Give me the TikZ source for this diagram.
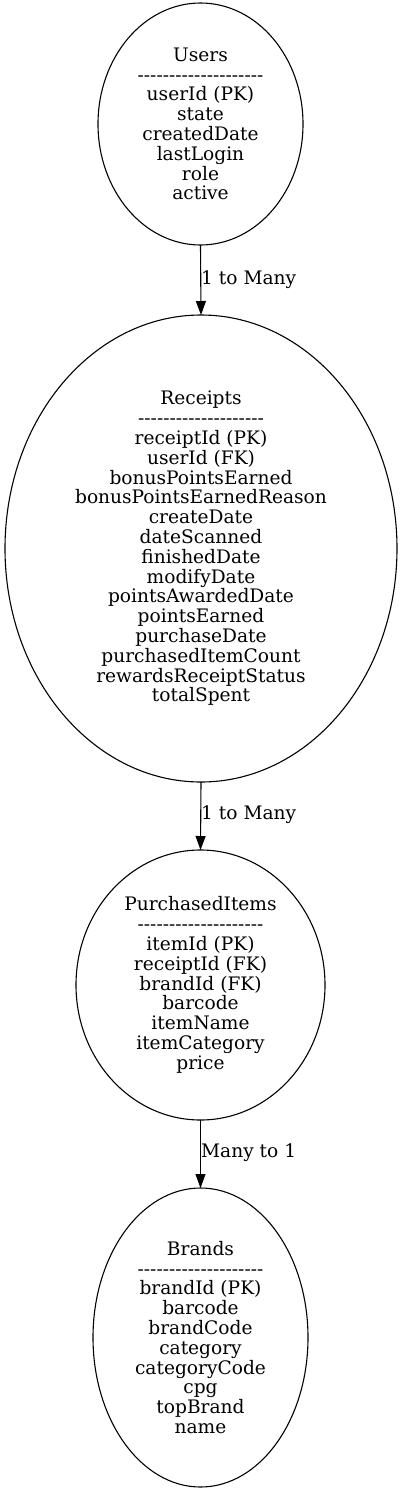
\documentclass[tikz,border=0pt]{standalone}
\usepackage{fontspec}
\setmainfont{DejaVu Serif}
\usetikzlibrary{shapes.geometric,arrows.meta}
\newcommand\dashrow{{-}{-}{-}{-}{-}{-}{-}{-}{-}{-}{-}{-}{-}{-}{-}{-}{-}{-}{-}{-}}
\begin{document}
\begin{tikzpicture}[x=1pt,y=-1pt,
  entity/.style={draw,ellipse,line width=1.1pt,inner sep=0pt,outer sep=0pt,align=center,
    font=\fontsize{18.6}{19.8}\selectfont},
  rel/.style={draw,line width=1.1pt,-{Triangle[length=14pt,width=10pt]}},
  rlabel/.style={anchor=west,inner sep=0pt,font=\fontsize{18.6}{19.8}\selectfont}]
\useasboundingbox (0,0) rectangle (401,1491);
\node[entity,minimum width=205,minimum height=242] (users) at (200.5,124)
  {Users\\\dashrow\\userId (PK)\\state\\createdDate\\lastLogin\\role\\active};
\node[entity,minimum width=392,minimum height=467] (receipts) at (201,548.5)
  {Receipts\\\dashrow\\receiptId (PK)\\userId (FK)\\bonusPointsEarned\\bonusPointsEarnedReason\\createDate\\dateScanned\\finishedDate\\modifyDate\\pointsAwardedDate\\pointsEarned\\purchaseDate\\purchasedItemCount\\rewardsReceiptStatus\\totalSpent};
\node[entity,minimum width=249,minimum height=270] (items) at (200.5,985)
  {PurchasedItems\\\dashrow\\itemId (PK)\\receiptId (FK)\\brandId (FK)\\barcode\\itemName\\itemCategory\\price};
\node[entity,minimum width=215,minimum height=299] (brands) at (200.5,1337.5)
  {Brands\\\dashrow\\brandId (PK)\\barcode\\brandCode\\category\\categoryCode\\cpg\\topBrand\\name};
\draw[rel] (users.south) -- (receipts.north);
\draw[rel] (receipts.south) -- (items.north);
\draw[rel] (items.south) -- (brands.north);
\node[rlabel] (l1) at (201,280) {1 to Many};
\node[rlabel] (l2) at (201,815) {1 to Many};
\node[rlabel] (l3) at (201,1153) {Many to 1};
\end{tikzpicture}
\end{document}
